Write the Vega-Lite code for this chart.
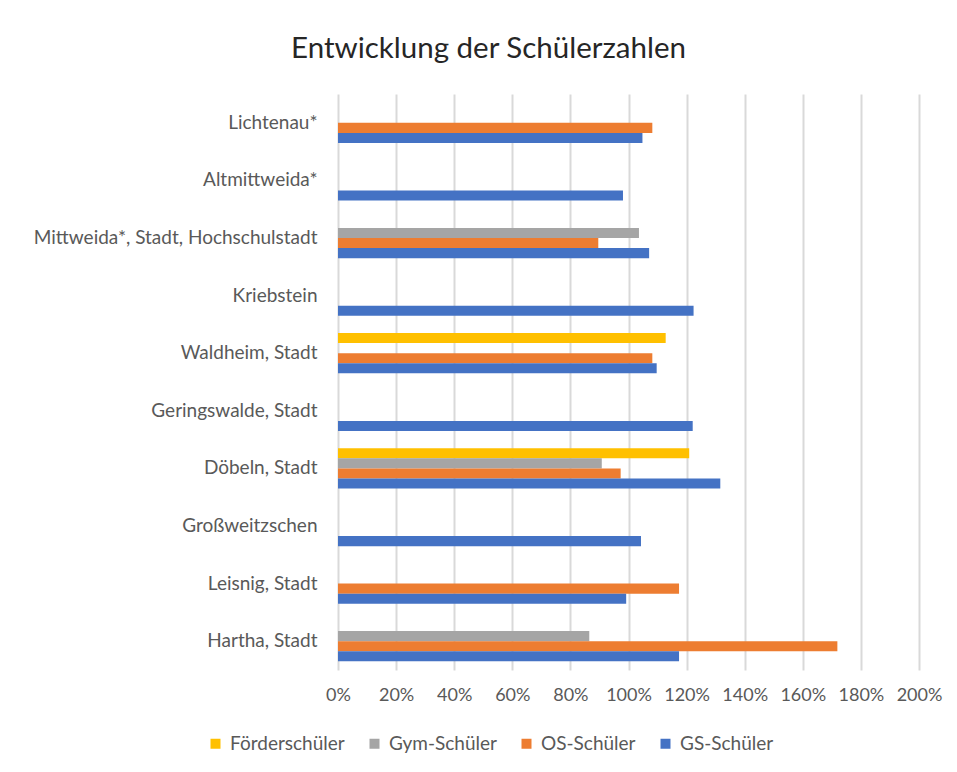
{
  "$schema": "https://vega.github.io/schema/vega-lite/v6.json",
  "width": 581,
  "height": 576,
  "autosize": {"type": "none"},
  "padding": {"left": 338, "top": 94, "right": 38, "bottom": 102},
  "background": "white",
  "title": {
    "text": "Entwicklung der Schülerzahlen",
    "font": "Lato",
    "fontSize": 29.5,
    "fontWeight": "normal",
    "color": "#262626",
    "anchor": "middle",
    "dx": -140,
    "offset": 30
  },
  "data": {
    "values": [
      {"ort": "Lichtenau*", "schule": "OS-Schüler", "wert": 1.082},
      {"ort": "Lichtenau*", "schule": "GS-Schüler", "wert": 1.048},
      {"ort": "Altmittweida*", "schule": "GS-Schüler", "wert": 0.981},
      {"ort": "Mittweida*, Stadt, Hochschulstadt", "schule": "Gym-Schüler", "wert": 1.036},
      {"ort": "Mittweida*, Stadt, Hochschulstadt", "schule": "OS-Schüler", "wert": 0.896},
      {"ort": "Mittweida*, Stadt, Hochschulstadt", "schule": "GS-Schüler", "wert": 1.071},
      {"ort": "Kriebstein", "schule": "GS-Schüler", "wert": 1.224},
      {"ort": "Waldheim, Stadt", "schule": "Förderschüler", "wert": 1.128},
      {"ort": "Waldheim, Stadt", "schule": "OS-Schüler", "wert": 1.082},
      {"ort": "Waldheim, Stadt", "schule": "GS-Schüler", "wert": 1.097},
      {"ort": "Geringswalde, Stadt", "schule": "GS-Schüler", "wert": 1.221},
      {"ort": "Döbeln, Stadt", "schule": "Förderschüler", "wert": 1.209},
      {"ort": "Döbeln, Stadt", "schule": "Gym-Schüler", "wert": 0.908},
      {"ort": "Döbeln, Stadt", "schule": "OS-Schüler", "wert": 0.973},
      {"ort": "Döbeln, Stadt", "schule": "GS-Schüler", "wert": 1.316},
      {"ort": "Großweitzschen", "schule": "GS-Schüler", "wert": 1.043},
      {"ort": "Leisnig, Stadt", "schule": "OS-Schüler", "wert": 1.174},
      {"ort": "Leisnig, Stadt", "schule": "GS-Schüler", "wert": 0.992},
      {"ort": "Hartha, Stadt", "schule": "Gym-Schüler", "wert": 0.865},
      {"ort": "Hartha, Stadt", "schule": "OS-Schüler", "wert": 1.719},
      {"ort": "Hartha, Stadt", "schule": "GS-Schüler", "wert": 1.174}
    ]
  },
  "mark": {"type": "bar", "cornerRadius": 0},
  "encoding": {
    "y": {
      "field": "ort",
      "type": "nominal",
      "sort": ["Lichtenau*", "Altmittweida*", "Mittweida*, Stadt, Hochschulstadt", "Kriebstein", "Waldheim, Stadt", "Geringswalde, Stadt", "Döbeln, Stadt", "Großweitzschen", "Leisnig, Stadt", "Hartha, Stadt"],
      "scale": {"paddingInner": 0.3, "paddingOuter": 0.15},
      "axis": {
        "title": null,
        "domain": false,
        "ticks": false,
        "labelFont": "Lato",
        "labelFontSize": 19,
        "labelColor": "#595959",
        "labelPadding": 21,
        "labelLimit": 400
      }
    },
    "yOffset": {
      "field": "schule",
      "type": "nominal",
      "sort": ["Förderschüler", "Gym-Schüler", "OS-Schüler", "GS-Schüler"],
      "scale": {"domain": ["Förderschüler", "Gym-Schüler", "OS-Schüler", "GS-Schüler"], "paddingInner": 0, "paddingOuter": 0}
    },
    "x": {
      "field": "wert",
      "type": "quantitative",
      "scale": {"domain": [0, 2], "nice": false},
      "axis": {
        "title": null,
        "format": ".0%",
        "values": [0, 0.2, 0.4, 0.6, 0.8, 1.0, 1.2, 1.4, 1.6, 1.8, 2.0],
        "labelOverlap": false,
        "labelFlush": false,
        "labelBound": false,
        "domain": false,
        "ticks": false,
        "grid": true,
        "gridColor": "#d9d9d9",
        "gridWidth": 2,
        "labelFont": "Lato",
        "labelFontSize": 18,
        "labelColor": "#595959",
        "labelPadding": 16
      }
    },
    "color": {
      "field": "schule",
      "type": "nominal",
      "scale": {
        "domain": ["Förderschüler", "Gym-Schüler", "OS-Schüler", "GS-Schüler"],
        "range": ["#FFC000", "#A5A5A5", "#ED7D31", "#4472C4"]
      },
      "legend": {
        "title": null,
        "orient": "none",
        "direction": "horizontal",
        "legendX": -132,
        "legendY": 640,
        "symbolType": "square",
        "symbolSize": 100,
        "symbolStrokeWidth": 0,
        "symbolOffset": 0,
        "labelFont": "Lato",
        "labelFontSize": 19,
        "labelColor": "#595959",
        "labelOffset": 5,
        "columnPadding": 20
      }
    }
  },
  "config": {
    "view": {"stroke": null}
  }
}
